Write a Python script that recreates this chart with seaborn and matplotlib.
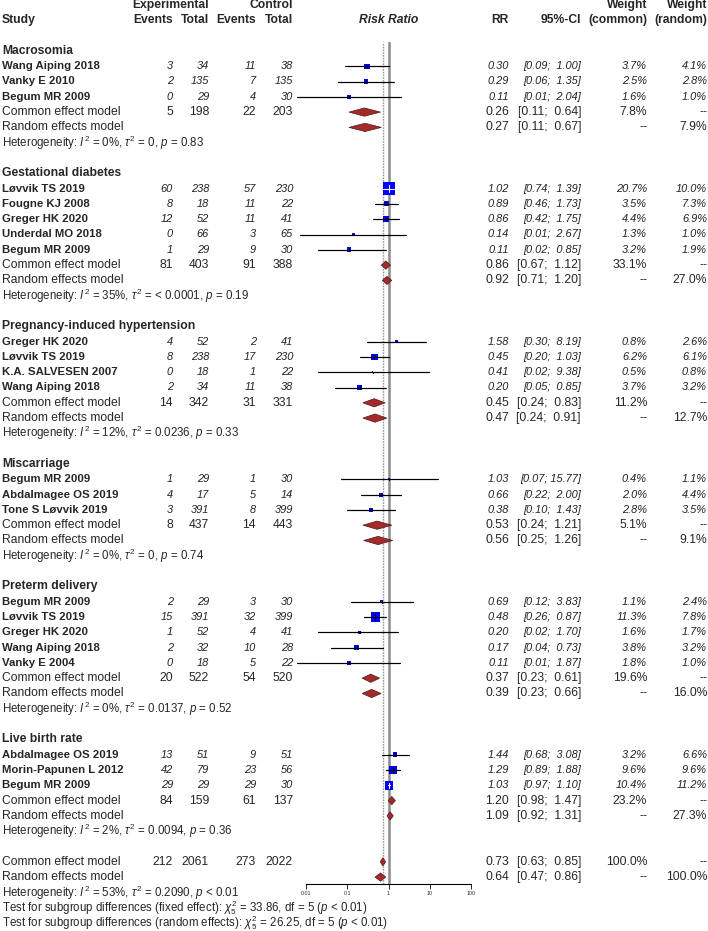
import numpy as np
import pandas as pd
import matplotlib
matplotlib.use("Agg")
import matplotlib.pyplot as plt
import seaborn as sns

# ---- data ----
group_names = ["Macrosomia", "Gestational diabetes", "Pregnancy-induced hypertension",
               "Miscarriage", "Preterm delivery", "Live birth rate"]

study_group = [0, 0, 0, 1, 1, 1, 1, 1, 2, 2, 2, 2, 3, 3, 3, 4, 4, 4, 4, 4, 5, 5, 5]
study_names = ["Wang Aiping 2018", "Vanky E 2010", "Begum MR 2009",
               "Løvvik TS 2019", "Fougne KJ 2008", "Greger HK 2020", "Underdal MO 2018", "Begum MR 2009",
               "Greger HK 2020", "Løvvik TS 2019", "K.A. SALVESEN 2007", "Wang Aiping 2018",
               "Begum MR 2009", "Abdalmagee OS 2019", "Tone S Løvvik 2019",
               "Begum MR 2009", "Løvvik TS 2019", "Greger HK 2020", "Wang Aiping 2018", "Vanky E 2004",
               "Abdalmagee OS 2019", "Morin-Papunen L 2012", "Begum MR 2009"]
ev_exp = [3, 2, 0, 60, 8, 12, 0, 1, 4, 8, 0, 2, 1, 4, 3, 2, 15, 1, 2, 0, 13, 42, 29]
n_exp = [34, 135, 29, 238, 18, 52, 66, 29, 52, 238, 18, 34, 29, 17, 391, 29, 391, 52, 32, 18, 51, 79, 29]
ev_ctl = [11, 7, 4, 57, 11, 11, 3, 9, 2, 17, 1, 11, 1, 5, 8, 3, 32, 4, 10, 5, 9, 23, 29]
n_ctl = [38, 135, 30, 230, 22, 41, 65, 30, 41, 230, 22, 38, 30, 14, 399, 30, 399, 41, 28, 22, 51, 56, 30]
rr = [0.30, 0.29, 0.11, 1.02, 0.89, 0.86, 0.14, 0.11, 1.58, 0.45, 0.41, 0.20,
      1.03, 0.66, 0.38, 0.69, 0.48, 0.20, 0.17, 0.11, 1.44, 1.29, 1.03]
ci_lo = [0.09, 0.06, 0.006, 0.74, 0.46, 0.42, 0.007, 0.02, 0.30, 0.20, 0.02, 0.05,
         0.07, 0.22, 0.10, 0.12, 0.26, 0.02, 0.04, 0.006, 0.68, 0.89, 0.97]
ci_hi = [1.00, 1.35, 2.04, 1.39, 1.73, 1.75, 2.67, 0.85, 8.19, 1.03, 9.38, 0.85,
         15.77, 2.00, 1.43, 3.83, 0.87, 1.70, 0.73, 1.87, 3.08, 1.88, 1.10]
w_common = [3.7, 2.5, 1.6, 20.7, 3.5, 4.4, 1.3, 3.2, 0.8, 6.2, 0.5, 3.7,
            0.4, 2.0, 2.8, 1.1, 11.3, 1.6, 3.8, 1.8, 3.2, 9.6, 10.4]
w_random = [4.1, 2.8, 1.0, 10.0, 7.3, 6.9, 1.0, 1.9, 2.6, 6.1, 0.8, 3.2,
            1.1, 4.4, 3.5, 2.4, 7.8, 1.7, 3.2, 1.0, 6.6, 9.6, 11.2]

grp_ev_exp = [5, 81, 14, 8, 20, 84]
grp_n_exp = [198, 403, 342, 437, 522, 159]
grp_ev_ctl = [22, 91, 31, 14, 54, 61]
grp_n_ctl = [203, 388, 331, 443, 520, 137]
com_rr = [0.26, 0.86, 0.45, 0.53, 0.37, 1.20]
com_lo = [0.11, 0.67, 0.24, 0.24, 0.23, 0.98]
com_hi = [0.64, 1.12, 0.83, 1.21, 0.61, 1.47]
com_w = [7.8, 33.1, 11.2, 5.1, 19.6, 23.2]
ran_rr = [0.27, 0.92, 0.47, 0.56, 0.39, 1.09]
ran_lo = [0.11, 0.71, 0.24, 0.25, 0.23, 0.92]
ran_hi = [0.67, 1.20, 0.91, 1.26, 0.66, 1.31]
ran_w = [7.9, 27.0, 12.7, 9.1, 16.0, 27.3]
het_i2 = ["0%", "35%", "12%", "0%", "0%", "2%"]
het_tau2 = ["0", "< 0.0001", "0.0236", "0", "0.0137", "0.0094"]
het_p = ["= 0.83", "= 0.19", "= 0.33", "= 0.74", "= 0.52", "= 0.36"]

tot_counts = [212, 2061, 273, 2022]
tot_common = [0.73, 0.63, 0.85, 100.0]
tot_random = [0.64, 0.47, 0.86, 100.0]
tot_het = ["53%", "0.2090", "< 0.01"]
subgroup_tests = [("fixed effect", "33.86", 5, "< 0.01"), ("random effects", "26.25", 5, "< 0.01")]

axis_ticks = [0.01, 0.1, 1, 10, 100]
axis_labels = ["0.01", "0.1", "1", "10", "100"]

# ---- style ----
sns.set_theme(style="white")
plt.rcParams["font.family"] = ["Liberation Sans", "DejaVu Sans"]
plt.rcParams["mathtext.fontset"] = "custom"
plt.rcParams["mathtext.rm"] = "Liberation Sans"
plt.rcParams["mathtext.it"] = "Liberation Sans:italic"
plt.rcParams["mathtext.bf"] = "Liberation Sans:bold"

W, H = 708, 931
ROW0, ROWH = 5.0, 15.3          # pixel y of row 0 and row spacing
FS = 8.7                        # summary / header text
FS_HET = 8.3                    # heterogeneity / test lines
FS_LAB = 8.2                    # study labels
FS_NUM = 7.9                    # study numbers
SQ_COL = "#0000FF"
DIA_COL = "#A52A2A"

# right edges of the text columns (pixels)
X_EV_E, X_N_E, X_EV_C, X_N_C = 173, 209, 256, 293
X_RR, X_CI, X_WC, X_WR = 509, 581, 647, 707
X_FOREST0, X_FOREST1 = 306, 471     # forest panel 0.01 .. 100
Y_TOP, Y_AXIS = 42, 884

fig = plt.figure(figsize=(W / 100, H / 100), dpi=100)
ax_t = fig.add_axes([0, 0, 1, 1])
ax_t.set_xlim(0, W)
ax_t.set_ylim((H - ROW0) / ROWH, -ROW0 / ROWH)
ax_t.axis("off")

ax = fig.add_axes([X_FOREST0 / W, (H - Y_AXIS) / H, (X_FOREST1 - X_FOREST0) / W, (Y_AXIS - Y_TOP) / H])
ax.set_xscale("log")
ax.set_xlim(0.01, 100)
ax.set_ylim((Y_AXIS - ROW0) / ROWH, (Y_TOP - ROW0) / ROWH)
ax.patch.set_alpha(0)
for s in ["top", "left", "right"]:
    ax.spines[s].set_visible(False)
ax.spines["bottom"].set_color("black")
ax.spines["bottom"].set_linewidth(0.8)
ax.set_xticks(axis_ticks, axis_labels)
ax.minorticks_off()
ax.tick_params(axis="x", bottom=True, length=3.5, width=0.6, pad=1.5, labelsize=3.8, color="black")
ax.set_yticks([])

# reference lines
ax.axvline(1, color="#8c8c8c", lw=1.8, zorder=1)
ax.axvline(tot_common[0], color="#9a9a9a", lw=1.0, ls=(0, (1.2, 0.8)), zorder=1)


def fmt_ci(lo, hi):
    return f"[{lo:.2f}; {hi:5.2f}]"


def fmt_w(w):
    return "--" if w is None else f"{w:.1f}%"


def txt(x, row, s, ha="right", **kw):
    ax_t.text(x, row, s, ha=ha, va="center", **kw)


def diamond(row, est, lo, hi):
    h = 0.27
    ax.fill([lo, est, hi, est], [row, row - h, row, row + h],
            facecolor=DIA_COL, edgecolor="#4a1a1a", lw=0.5, zorder=4, clip_on=False)


# header
txt(X_N_E, 0, "Experimental", fontsize=FS, fontweight="bold")
txt(X_N_C, 0, "Control", fontsize=FS, fontweight="bold")
txt(X_WC, 0, "Weight", fontsize=FS, fontweight="bold")
txt(X_WR, 0, "Weight", fontsize=FS, fontweight="bold")
txt(2, 1, "Study", ha="left", fontsize=FS, fontweight="bold")
for x, s in [(X_EV_E, "Events"), (X_N_E, "Total"), (X_EV_C, "Events"), (X_N_C, "Total"),
             (X_RR, "RR"), (X_CI, "95%-CI"), (X_WC, "(common)"), (X_WR, "(random)")]:
    txt(x, 1, s, fontsize=FS, fontweight="bold")
txt((X_FOREST0 + X_FOREST1) / 2 + 0.5, 1, "Risk Ratio", ha="center", fontsize=FS,
    fontweight="bold", fontstyle="italic")

# study rows
studies = pd.DataFrame({
    "group": study_group, "name": study_names, "ev_e": ev_exp, "n_e": n_exp,
    "ev_c": ev_ctl, "n_c": n_ctl, "rr": rr, "lo": ci_lo, "hi": ci_hi,
    "wc": w_common, "wr": w_random,
})

rows = []
row = 3
group_rows = []
for g, gname in enumerate(group_names):
    sub = studies[studies["group"] == g]
    group_rows.append(row)
    rows.extend(range(row + 1, row + 1 + len(sub)))
    row += len(sub) + 5
studies["row"] = rows
overall_row = row

# CI lines behind squares
for _, r in studies.iterrows():
    ax.plot([r["lo"], r["hi"]], [r["row"], r["row"]], color="black", lw=0.8, zorder=2,
            clip_on=False, solid_capstyle="butt")

side_max_pt = 12.3 * 0.72
sns.scatterplot(data=studies, x="rr", y="row", size="wc", sizes=(0, side_max_pt ** 2),
                size_norm=(0, max(w_common)), marker="s", color=SQ_COL, linewidth=0,
                legend=False, ax=ax, zorder=3, clip_on=False)
ax.set_xlabel("")
ax.set_ylabel("")

# lines drawn over the squares (white when the CI sits inside the square)
dec = (X_FOREST1 - X_FOREST0) / 4.0
for _, r in studies.iterrows():
    side_px = 12.3 * np.sqrt(r["wc"] / max(w_common))
    inside = (np.log10(r["rr"]) - np.log10(r["lo"])) * dec < side_px / 2 and \
             (np.log10(r["hi"]) - np.log10(r["rr"])) * dec < side_px / 2
    col = "white" if inside else "black"
    ax.plot([r["lo"], r["hi"]], [r["row"], r["row"]], color=col, lw=0.8, zorder=3.5, clip_on=False)
    tick = 0.3 * side_px / ROWH
    ax.plot([r["rr"], r["rr"]], [r["row"] - tick, r["row"] + tick], color=col, lw=0.8, zorder=3.5)

    txt(2, r["row"], r["name"], ha="left", fontsize=FS_LAB, fontweight="bold")
    num = dict(fontsize=FS_NUM, fontstyle="italic", color="#222222")
    txt(X_EV_E, r["row"], f"{r['ev_e']}", **num)
    txt(X_N_E, r["row"], f"{r['n_e']}", **num)
    txt(X_EV_C, r["row"], f"{r['ev_c']}", **num)
    txt(X_N_C, r["row"], f"{r['n_c']}", **num)
    txt(X_RR, r["row"], f"{r['rr']:.2f}", **num)
    txt(X_CI, r["row"], fmt_ci(r["lo"], r["hi"]), **num)
    txt(X_WC, r["row"], fmt_w(r["wc"]), **num)
    txt(X_WR, r["row"], fmt_w(r["wr"]), **num)


def summary_rows(r0, counts, com, ran, het_parts):
    txt(2, r0, "Common effect model", ha="left", fontsize=FS)
    for x, v in zip([X_EV_E, X_N_E, X_EV_C, X_N_C], counts):
        txt(x, r0, f"{v}", fontsize=FS)
    txt(X_RR, r0, f"{com[0]:.2f}", fontsize=FS)
    txt(X_CI, r0, fmt_ci(com[1], com[2]), fontsize=FS)
    txt(X_WC, r0, fmt_w(com[3]), fontsize=FS)
    txt(X_WR, r0, "--", fontsize=FS)
    diamond(r0, com[0], com[1], com[2])

    txt(2, r0 + 1, "Random effects model", ha="left", fontsize=FS)
    txt(X_RR, r0 + 1, f"{ran[0]:.2f}", fontsize=FS)
    txt(X_CI, r0 + 1, fmt_ci(ran[1], ran[2]), fontsize=FS)
    txt(X_WC, r0 + 1, "--", fontsize=FS)
    txt(X_WR, r0 + 1, fmt_w(ran[3]), fontsize=FS)
    diamond(r0 + 1, ran[0], ran[1], ran[2])

    i2, tau2, p = het_parts
    txt(2, r0 + 2, rf"Heterogeneity: $I^2$ = {i2}, $\tau^2$ = {tau2}, $p$ {p}",
        ha="left", fontsize=FS_HET)


for g, gname in enumerate(group_names):
    r0 = group_rows[g]
    n = int((studies["group"] == g).sum())
    txt(2, r0, gname, ha="left", fontsize=FS, fontweight="bold")
    summary_rows(r0 + n + 1,
                 [grp_ev_exp[g], grp_n_exp[g], grp_ev_ctl[g], grp_n_ctl[g]],
                 [com_rr[g], com_lo[g], com_hi[g], com_w[g]],
                 [ran_rr[g], ran_lo[g], ran_hi[g], ran_w[g]],
                 [het_i2[g], het_tau2[g], het_p[g]])

summary_rows(overall_row, tot_counts, tot_common, tot_random,
             [tot_het[0], tot_het[1], tot_het[2]])
for k, (kind, chi, df, p) in enumerate(subgroup_tests):
    txt(2, overall_row + 3 + k,
        rf"Test for subgroup differences ({kind}): $\chi^2_{df}$ = {chi}, df = {df} ($p$ {p})",
        ha="left", fontsize=FS_HET)

fig.savefig("out.png", dpi=100)
